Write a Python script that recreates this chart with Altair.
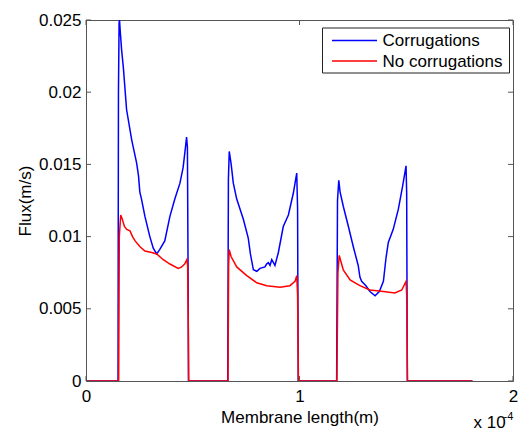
import altair as alt
import pandas as pd

# ---------------- data (x in units of 1e-4 m, flux in m/s) ----------------
blue_x = [0.0, 0.150, 0.152, 0.155, 0.157, 0.160, 0.167, 0.175, 0.190, 0.214, 0.237, 0.246,
          0.252, 0.260, 0.276, 0.299, 0.315, 0.331, 0.345, 0.369, 0.393, 0.416, 0.440,
          0.455, 0.466, 0.471, 0.475, 0.478, 0.480,
          0.664, 0.667, 0.671, 0.680, 0.690, 0.706, 0.737, 0.760, 0.770, 0.784, 0.800,
          0.815, 0.838, 0.846, 0.854, 0.862, 0.870, 0.878, 0.885, 0.901, 0.924, 0.948,
          0.971, 0.987, 0.991, 0.994,
          1.174, 1.178, 1.184, 1.190, 1.205, 1.229, 1.252, 1.275, 1.283, 1.291, 1.311,
          1.330, 1.354, 1.374, 1.393, 1.405, 1.416, 1.439, 1.463, 1.483, 1.499, 1.502,
          1.505, 1.810]
blue_y = [0.0, 0.0, 0.0200, 0.0248, 0.0250, 0.0243, 0.0229, 0.0217, 0.0188, 0.0167, 0.0151, 0.0142,
          0.0131, 0.0126, 0.0114, 0.0100, 0.0092, 0.0088, 0.0091, 0.0097, 0.0114, 0.0126, 0.0137,
          0.0148, 0.0162, 0.0169, 0.0162, 0.0080, 0.0,
          0.0, 0.0140, 0.0159, 0.0150, 0.0137, 0.0126, 0.0112, 0.0099, 0.0088, 0.0077, 0.0076,
          0.0078, 0.0079, 0.0081, 0.0082, 0.0080, 0.0084, 0.0082, 0.0080, 0.0089, 0.0107, 0.0115,
          0.0130, 0.0144, 0.0120, 0.0,
          0.0, 0.0125, 0.0139, 0.0131, 0.0121, 0.0107, 0.0093, 0.0080, 0.0072, 0.0069, 0.0066,
          0.0062, 0.0059, 0.0062, 0.0069, 0.0085, 0.0096, 0.0105, 0.0119, 0.0135, 0.0149, 0.0130,
          0.0, 0.0]

red_x = [0.0, 0.153, 0.156, 0.1625, 0.170, 0.180, 0.191, 0.206, 0.218, 0.230, 0.253, 0.276,
         0.308, 0.331, 0.362, 0.393, 0.432, 0.448, 0.462, 0.472, 0.476, 0.479, 0.481,
         0.665, 0.668, 0.671, 0.680, 0.706, 0.753, 0.800, 0.846, 0.909, 0.955, 0.979, 0.987,
         0.991, 0.995,
         1.175, 1.180, 1.186, 1.205, 1.237, 1.283, 1.330, 1.393, 1.447, 1.479, 1.499, 1.502,
         1.506, 1.810]
red_y = [0.0, 0.0, 0.0100, 0.0115, 0.0112, 0.0107, 0.0105, 0.0104, 0.0100, 0.0097, 0.0093, 0.0090,
         0.0089, 0.0088, 0.0084, 0.0081, 0.0078, 0.0079, 0.0081, 0.0084, 0.0080, 0.0040, 0.0,
         0.0, 0.0080, 0.0091, 0.0086, 0.0079, 0.0073, 0.0068, 0.0066, 0.0065, 0.0066, 0.0069, 0.0073,
         0.0060, 0.0,
         0.0, 0.0075, 0.0087, 0.0077, 0.0070, 0.0066, 0.0063, 0.0062, 0.0061, 0.0063, 0.0069, 0.0060,
         0.0, 0.0]

series_names = ["Corrugations", "No corrugations"]
series_colors = ["#0000ff", "#ff0000"]
x_ticks = [0, 1, 2]
y_ticks = [0, 0.005, 0.01, 0.015, 0.02, 0.025]
x_title = "Membrane length(m)"
y_title = "Flux(m/s)"
exponent_text = ["x 10", "-4"]

# ---------------- layout / style ----------------
W, H = 427, 361
FONT = "Liberation Sans"
FS = 17
FRAME = "#555555"

blue_df = pd.DataFrame({"x": blue_x, "y": blue_y})
red_df = pd.DataFrame({"x": red_x, "y": red_y})

xs = alt.Scale(domain=[0, 2], nice=False, zero=False)
ys = alt.Scale(domain=[0, 0.025], nice=False)

xaxis = alt.Axis(values=x_ticks, title=x_title, ticks=False, domain=False, grid=False,
                 labelFlush=False, labelFont=FONT, labelFontSize=FS, labelColor="black",
                 labelPadding=7, titleFont=FONT, titleFontSize=FS, titleFontWeight="normal",
                 titleColor="black", titlePadding=5, format="~g")
yaxis = alt.Axis(values=y_ticks, title=y_title, ticks=False, domain=False, grid=False,
                 labelFont=FONT, labelFontSize=FS, labelColor="black", labelPadding=5,
                 titleFont=FONT, titleFontSize=FS, titleFontWeight="normal",
                 titleColor="black", titlePadding=4, format="~g", labelFlush=False)


def line_layer(df, color):
    return alt.Chart(df).mark_line(color=color, strokeWidth=1.5, clip=True).encode(
        x=alt.X("x:Q", scale=xs, axis=xaxis),
        y=alt.Y("y:Q", scale=ys, axis=yaxis),
    )


blue_line = line_layer(blue_df, series_colors[0])
red_line = line_layer(red_df, series_colors[1])

# inward tick marks (MATLAB style), on all four sides
ytick_df = pd.DataFrame({"y": y_ticks})
xtick_df = pd.DataFrame({"x": x_ticks})
ytick_left = alt.Chart(ytick_df).mark_rule(color=FRAME, strokeWidth=1).encode(
    y=alt.Y("y:Q", scale=ys, axis=yaxis), x=alt.value(0), x2=alt.value(5))
ytick_right = alt.Chart(ytick_df).mark_rule(color=FRAME, strokeWidth=1).encode(
    y=alt.Y("y:Q", scale=ys, axis=yaxis), x=alt.value(W - 5), x2=alt.value(W))
xtick_bottom = alt.Chart(xtick_df).mark_rule(color=FRAME, strokeWidth=1).encode(
    x=alt.X("x:Q", scale=xs, axis=xaxis), y=alt.value(H - 5), y2=alt.value(H))
xtick_top = alt.Chart(xtick_df).mark_rule(color=FRAME, strokeWidth=1).encode(
    x=alt.X("x:Q", scale=xs, axis=xaxis), y=alt.value(0), y2=alt.value(5))

# legend box
legend_df = pd.DataFrame({"series": series_names, "color": series_colors, "row": [0, 1]})
legend_box = alt.Chart(pd.DataFrame({"a": [0]})).mark_rect(
    fill="white", stroke="#222222", strokeWidth=1).encode(
    x=alt.value(236.5), x2=alt.value(423.5), y=alt.value(8), y2=alt.value(53))
legend_lines = alt.Chart(legend_df).mark_rule(strokeWidth=1.5).transform_calculate(
    ly="20.5 + datum.row * 20.5").encode(
    x=alt.value(246), x2=alt.value(291),
    y=alt.Y("ly:Q", scale=None),
    color=alt.Color("color:N", scale=None, legend=None))
legend_text = alt.Chart(legend_df).mark_text(
    align="left", baseline="alphabetic", font=FONT, fontSize=FS, color="black").transform_calculate(
    ly="26.2 + datum.row * 20.8").encode(
    x=alt.value(296.5), y=alt.Y("ly:Q", scale=None), text="series:N")

# x 10^-4 multiplier
exp_base = alt.Chart(pd.DataFrame({"t": [exponent_text[0]]})).mark_text(
    align="left", baseline="alphabetic", font=FONT, fontSize=FS, color="black").encode(
    x=alt.value(387.5), y=alt.value(408), text="t:N")
exp_pow = alt.Chart(pd.DataFrame({"t": [exponent_text[1]]})).mark_text(
    align="left", baseline="alphabetic", font=FONT, fontSize=11, color="black").encode(
    x=alt.value(417.5), y=alt.value(399.5), text="t:N")

chart = alt.layer(
    blue_line, red_line, ytick_left, ytick_right, xtick_bottom, xtick_top,
    legend_box, legend_lines, legend_text, exp_base, exp_pow
).properties(
    width=W, height=H,
    autosize=alt.AutoSizeParams(type="none"),
    padding={"left": 86, "top": 20, "right": 5, "bottom": 49},
    background="white",
).configure_view(stroke=FRAME, strokeWidth=1)

chart.save("out.html", embed_options={"renderer": "svg", "actions": False})
